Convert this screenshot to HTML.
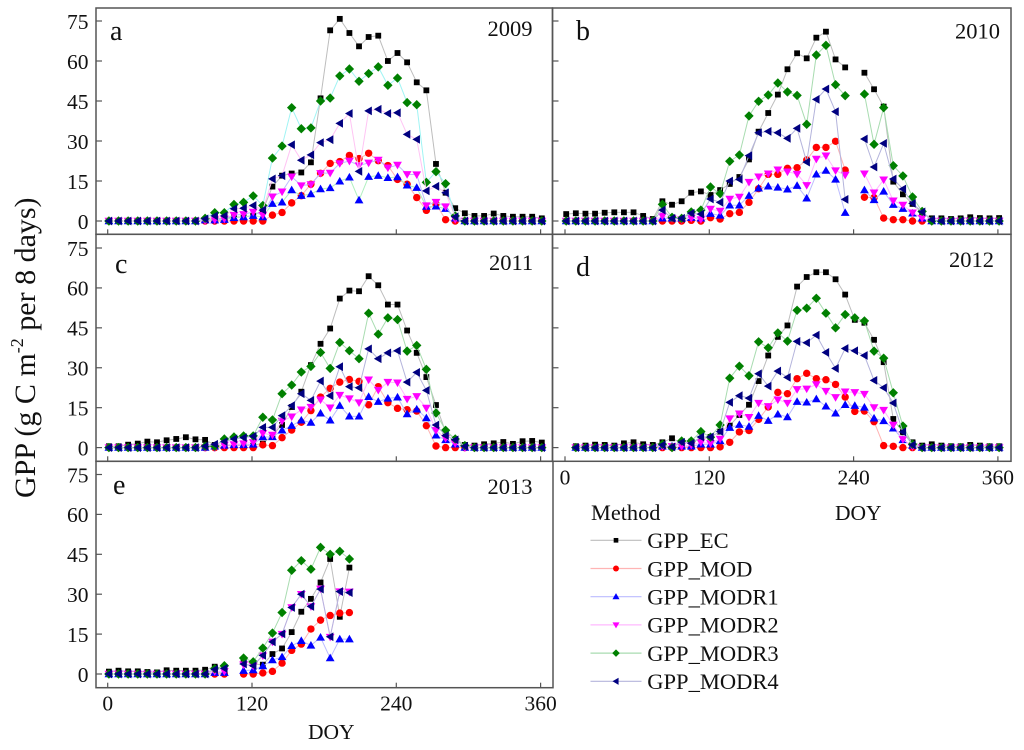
<!DOCTYPE html>
<html lang="en">
<head>
<meta charset="utf-8">
<title>GPP by method and year</title>
<style>
html,body{margin:0;padding:0;background:#fff;}
#stage{display:block;width:1024px;height:750px;filter:blur(0.35px);}
text{font-family:"Liberation Serif",serif;fill:#111;}
</style>
</head>
<body>
<svg id="stage" xmlns="http://www.w3.org/2000/svg" width="1024" height="750" viewBox="0 0 1024 750">
<rect x="0" y="0" width="1024" height="750" fill="#fff"/>
<text transform="translate(35,498) rotate(-90)" font-size="30">GPP (g C m<tspan font-size="18" dy="-12">-2</tspan><tspan dy="12"> per 8 days)</tspan></text>
<g id="panels"></g>
<text x="308" y="739" font-size="21.5">DOY</text>
<text x="835" y="520" font-size="21.5">DOY</text>
<g id="legend">
<text x="591" y="520" font-size="22.3">Method</text>
</g>
</svg>
<script>
// Shared categories and tick labels
const doyValues = [1,9,17,25,33,41,49,57,65,73,81,89,97,105,113,121,129,137,145,153,161,169,177,185,193,201,209,217,225,233,241,249,257,265,273,281,289,297,305,313,321,329,337,345,353,361];
const xTickLabels = [0,120,240,360];
const yTickLabels = [0,15,30,45,60,75];
const methodNames = ["GPP_EC","GPP_MOD","GPP_MODR1","GPP_MODR2","GPP_MODR3","GPP_MODR4"];

// Panel a, 2009
const a_EC = [0,0,0,0,0,0,0,0,0,0,.5,1,1,1.5,1.5,2,4,12.9,17,17.8,18.2,22,46,71.5,75.8,70.5,65.5,69,69.5,60,63,59.5,52,49,21.4,10.6,4.8,2.9,1.9,1.9,2.8,1.9,1.6,1.6,1.6,1];
const a_MOD = [0,0,0,0,0,0,0,0,0,0,0,0,0,0,0,0,0,2.2,3.2,6.8,9.5,13.8,17.9,21.6,22.3,24.6,23.4,25.4,22.6,20.8,15.6,13.8,8.8,4,6.4,.5,0,0,0,0,0,0,0,0,0,0];
const a_R1 = [0,0,0,0,0,0,0,0,0,0,.3,.3,.5,1.2,1.5,2,1.5,6.5,7,11.6,9.5,10.1,12,12.4,14.9,16.4,7.8,16.6,17,16.2,16.5,13.4,12.5,5.4,5.5,4.6,1,0,0,0,0,0,0,0,0,0];
const a_R2 = [0,0,0,0,0,0,0,0,0,0,.2,.5,.8,2.2,2.5,3.4,2.2,9.1,11,16.6,13.3,13.7,17.9,18,21.6,22.5,20.8,21.8,22.9,20,21,17.5,17.4,5.8,7.1,5.4,.6,0,0,0,0,0,0,0,0,0];
const a_R3 = [0,0,0,0,0,0,0,0,0,0,1,3.1,3.1,6.2,7,9.4,5.8,23.6,28.1,42.5,34.6,34.9,45,46.1,54.4,57,52.4,55.3,57.8,50.9,53.6,44.4,43.6,14.5,18.5,14,1.9,0,0,0,0,0,0,0,0,0];
const a_R4 = [0,0,0,0,0,0,0,0,0,0,.8,1.9,1.9,4.6,4.8,5.8,4.1,15.8,17,28.6,22.8,24.8,29.4,30.5,36.6,40.3,18.6,41.3,41.9,40.3,40.6,32.5,30.6,11.3,13,10.6,1.6,0,0,0,0,0,0,0,0,0];

// Panel b, 2010
const b_EC = [2.6,2.9,2.75,2.75,3.1,3.25,3.25,3.25,1.9,.75,7.4,6.1,7.4,10.6,11.1,9.75,11.6,13.9,16.5,23.1,33.5,40.5,47.4,56.9,62.9,61,68.75,71,60.6,57.6,null,55.6,49.4,42.9,14.75,10,6.4,2.9,1,1,.75,1,1.4,1.1,1,1.1];
const b_MOD = [0,0,0,0,0,0,0,0,0,0,0,0,0,.25,0,1.25,.75,2.75,3.25,7,12.1,17.5,17.5,19.75,20,22.9,27.6,27.6,29.9,19.1,null,8.9,8.75,1.1,.5,.5,0,0,0,0,0,0,0,0,0,0];
const b_R1 = [0,0,0,0,0,0,0,0,0,0,1,1,1,1.25,1,2.75,2.1,5.9,5.9,9.5,12.25,13,12.6,11.9,13.25,8.5,17.5,18.9,15.6,3.1,null,11.6,7.9,11.1,6.1,4.6,2.9,1,0,0,0,0,0,0,0,0];
const b_R2 = [0,0,0,0,0,0,0,0,0,0,1.9,1,.6,1.1,.6,4.5,3.75,8.25,9,14.6,16.6,17.75,19.25,18.5,17.6,13.4,23.25,24.5,18.9,17.25,null,17.75,10.6,15.5,7.6,6,3.1,1.1,0,0,0,0,0,0,0,0];
const b_R3 = [0,0,0,0,0,0,0,0,0,0,6.25,1.4,1,3.4,4.1,12.75,10.25,22.4,24.75,39.4,44.9,47.25,51.75,48.4,47.1,36.25,62.25,65.9,51.1,47,null,47.6,28.75,42.5,20.75,16.9,9,3.6,0,0,0,0,0,0,0,0];
const b_R4 = [0,0,0,0,0,0,0,0,0,0,4.1,1,1,2.9,2.6,8.25,7,15,15.6,24.5,33.1,33.6,33.1,31,34.75,22.1,45.6,49.5,41,8.1,null,30.75,20.25,29.1,15.75,12,6.6,3.4,.5,0,0,0,0,0,0,0];

// Panel c, 2011
const c_EC = [.5,.5,1.1,1.5,2.25,2,2.75,3.25,3.9,3.1,2.9,1,.8,.8,.8,1,1.5,4.75,8.5,15.25,21,31,39,44.75,56,59,58.75,64.4,61,53.75,53.75,44,35.6,26.5,16,6,3.25,1,.75,1.25,1.6,2.1,1.4,2.4,2.5,1.9];
const c_MOD = [0,0,0,0,0,0,0,0,0,0,0,0,0,0,0,0,1,.75,3.75,6.6,9.5,13.9,19,22.25,24.6,25.6,24.9,16.1,22.9,16.9,14.75,14.25,13.75,8.25,.6,0,0,0,0,0,0,0,0,0,0,0];
const c_R1 = [0,0,0,0,0,0,0,0,0,0,0,.5,.8,1,1,1.2,4,4,6.5,8.25,10.25,9.4,12.9,10.25,15.75,11.75,11.75,19.1,17.25,18.5,18.9,12.6,14.4,11.1,4.6,2.9,1.25,0,0,0,0,0,0,0,0,0];
const c_R2 = [0,0,0,0,0,0,0,0,0,0,0,0,1,1.2,1.5,2,5.4,4.75,10,11.6,14.25,15.25,18,15,19.75,18.4,16.9,25.5,21.6,24.6,24.4,18.25,19.25,14.9,6.5,3.5,1.6,0,0,0,0,0,0,0,0,0];
const c_R3 = [0,0,0,0,0,0,0,0,0,0,.5,.5,3.25,4,4.4,4.4,11.4,10.4,20.25,23.5,28.4,30.5,35.75,29.75,39.5,36.4,33.4,50.5,42.6,48.75,48.1,36.25,38.4,29.4,13,6.5,3.25,.75,0,0,0,0,0,0,0,0];
const c_R4 = [0,0,0,0,0,0,0,0,0,0,.5,1.25,2.25,3.25,3.75,4.25,7.6,7.6,12,15.75,20.25,17.75,25,19.5,30.4,22.9,22.5,37.1,33.4,35.6,36.4,24.6,28.25,21.5,8.5,4.5,2.9,.5,0,0,0,0,0,0,0,0];

// Panel d, 2012
const d_EC = [null,.5,.75,1.1,1,.75,1.6,2,1.25,1,2,3.5,1.6,2.25,3.25,4,6,8.25,12.25,16.1,25,34.6,41.6,45.9,60.5,64.1,65.9,65.9,63.25,57.5,48,46.9,40.5,32.1,10.75,5.75,2,.75,1.25,.75,.5,.5,1,.75,.5,.5];
const d_MOD = [null,0,0,0,0,0,0,0,0,0,0,0,0,0,0,0,.25,2,5.9,6.4,10.6,15.25,20.75,20.25,25.9,27.9,25.9,25.5,23.75,19,13.6,13.75,9.75,.75,.5,0,0,0,0,0,0,0,0,0,0,0];
const d_R1 = [null,0,0,0,0,0,0,0,0,0,.5,.5,.5,.5,1.25,1.25,2.5,7.5,8.6,7.9,12,10.1,12.5,11.5,17.25,17,18.25,15.5,12.9,16.1,15.75,15.1,11,10,7.25,2.9,.75,0,0,0,0,0,0,0,0,0];
const d_R2 = [null,0,0,0,0,0,0,0,0,0,.5,.5,.5,1,2,1.6,3.25,10.9,12.75,11.4,16.75,15.5,18,16.75,21.9,22.1,23.75,21.25,18.9,21,20.75,20.1,15.1,14.1,8.5,3.1,.4,0,0,0,0,0,0,0,0,0];
const d_R3 = [null,0,0,0,0,0,0,0,0,0,1.25,0,2.5,2.5,6,3.9,8.5,26.1,30.6,27,39.75,37.5,43.1,40,51.6,52.4,56.1,50.5,45,50,48.75,47.6,36.25,33.6,20.6,8.1,1.25,0,0,0,0,0,0,0,0,0];
const d_R4 = [null,0,0,0,0,0,0,0,0,0,1,.25,2,1.6,4,4,6,17,19.5,18.6,27.75,23.1,28.75,26.4,39.9,39.4,42.25,35.75,29.75,37.25,36.4,34.6,25.25,22.5,16.75,5.9,1,0,0,0,0,0,0,0,0,0];

// Panel e, 2013
const e_EC = [.9,1.25,1,1,.75,.6,1.4,1.25,1.25,1.25,1.6,2.75,2.1,null,5.25,3.75,3.5,7.5,9.6,15.75,23.4,28.25,34.4,43.25,21.5,40];
const e_MOD = [0,0,0,0,0,0,0,0,0,0,0,0,0,null,0,0,.4,1,4.1,8.9,11.25,16.9,20.25,22,22.9,23.1];
const e_R1 = [0,0,0,0,0,0,0,0,0,0,0,.5,.5,null,1.25,1.5,3,5.25,6.4,10.6,12.5,10.75,13.75,6,13.1,13.1];
const e_R2 = [0,0,0,0,0,0,0,0,0,0,0,1,1,null,3.5,3,6.9,12.1,15,25,30,25.4,32,13.9,31,30.9];
const e_R3 = [0,0,0,0,0,0,0,0,0,0,0,2,3.1,null,6,4.6,9.75,15.4,23.1,39,42.6,39.4,47.6,45,46.1,43.25];
const e_R4 = [0,0,0,0,0,0,0,0,0,0,0,1.75,2.1,null,3.75,3.1,7,12.1,15.1,25,30,25.4,31.9,14,31,30.6];

const SVGNS = "http://www.w3.org/2000/svg";
const markerColors = ["#000000","#ff0000","#0000ff","#ff00ff","#008000","#000080"];
const lineColors = ["#bdbdbd","#ffb4b4","#bcbcff","#ffb8ff","#a8dcb0","#b4b4dc"];
const lineColorsA = ["#bdbdbd","#ffb4b4","#b0f0c0","#bcbcff","#a0f4f4","#ffc4f4"];

function make(tag, attrs, parent) {
  const el = document.createElementNS(SVGNS, tag);
  for (const k in attrs) el.setAttribute(k, attrs[k]);
  parent.appendChild(el);
  return el;
}

function drawMarker(kind, cx, cy, parent, scale) {
  const color = markerColors[kind];
  const q = scale;
  let el;
  if (kind === 0) {
    el = make("rect", {x: cx - 2.9 * q, y: cy - 2.9 * q, width: 5.8 * q, height: 5.8 * q, fill: color}, parent);
  } else if (kind === 1) {
    el = make("circle", {cx: cx, cy: cy, r: 3.7 * q, fill: color}, parent);
  } else if (kind === 2) {
    el = make("polygon", {points: [cx, cy - 4.4 * q, cx + 4.4 * q, cy + 3.2 * q, cx - 4.4 * q, cy + 3.2 * q].join(" "), fill: color}, parent);
  } else if (kind === 3) {
    el = make("polygon", {points: [cx - 4.4 * q, cy - 3.2 * q, cx + 4.4 * q, cy - 3.2 * q, cx, cy + 4.4 * q].join(" "), fill: color}, parent);
  } else if (kind === 4) {
    el = make("polygon", {points: [cx, cy - 4.7 * q, cx + 4.7 * q, cy, cx, cy + 4.7 * q, cx - 4.7 * q, cy].join(" "), fill: color}, parent);
  } else {
    el = make("polygon", {points: [cx - 4.4 * q, cy, cx + 3.2 * q, cy - 4.4 * q, cx + 3.2 * q, cy + 4.4 * q].join(" "), fill: color}, parent);
  }
  return el;
}

const panelDefs = [
  {id:"a", year:2009, left:96, right:552.5, top:8, bottom:234.3, x0:107.7, y0:221, y75:21, series:[a_EC,a_MOD,a_R1,a_R2,a_R3,a_R4], letterX:110, letterY:40, yearX:487.5, yearY:36, xLabels:false, yLabels:true, colors:lineColorsA},
  {id:"b", year:2010, left:552.5, right:1011, top:8, bottom:234.3, x0:565, y0:221, y75:21, series:[b_EC,b_MOD,b_R1,b_R2,b_R3,b_R4], letterX:576, letterY:40, yearX:955, yearY:38.5, xLabels:false, yLabels:false, colors:lineColors},
  {id:"c", year:2011, left:96, right:552.5, top:234.3, bottom:461.3, x0:107.7, y0:447.6, y75:248, series:[c_EC,c_MOD,c_R1,c_R2,c_R3,c_R4], letterX:115, letterY:273, yearX:489, yearY:270, xLabels:false, yLabels:true, colors:lineColors},
  {id:"d", year:2012, left:552.5, right:1011, top:234.3, bottom:461.3, x0:565, y0:447.6, y75:248, series:[d_EC,d_MOD,d_R1,d_R2,d_R3,d_R4], letterX:576, letterY:276, yearX:949, yearY:267, xLabels:true, yLabels:false, colors:lineColors},
  {id:"e", year:2013, left:96, right:553, top:461.3, bottom:687.7, x0:107.7, y0:674, y75:474.5, series:[e_EC,e_MOD,e_R1,e_R2,e_R3,e_R4], letterX:113, letterY:494, yearX:487.5, yearY:494, xLabels:true, yLabels:true, colors:lineColors}
];

function xScale(p, doy) { return p.x0 + doy * 1.2025; }
function yScale(p, v) { return p.y0 - v * (p.y0 - p.y75) / 75; }

const panelsRoot = document.getElementById("panels");

panelDefs.forEach(function (p) {
  const g = make("g", {}, panelsRoot);
  
  

  const frame = make("rect", {x: p.left, y: p.top, width: p.right - p.left, height: p.bottom - p.top, fill: "none", stroke: "#555", "stroke-width": 1.5}, g);
  
  

  yTickLabels.forEach(function (t) {
    const y = yScale(p, t);
    const tick = make("line", {x1: p.left, x2: p.left + 6, y1: y, y2: y, stroke: "#555", "stroke-width": 1.2}, g);
    
    
    if (p.yLabels) {
      const lab = make("text", {x: p.left - 7.5, y: y + 7.8, "text-anchor": "end", "font-size": 21.5}, g);
      lab.textContent = t;
      
      
    }
  });

  xTickLabels.forEach(function (t) {
    const x = xScale(p, t);
    const tick = make("line", {x1: x, x2: x, y1: p.bottom, y2: p.bottom - 5, stroke: "#555", "stroke-width": 1.2}, g);
    
    
    if (p.xLabels) {
      const lab = make("text", {x: x, y: p.bottom + 23, "text-anchor": "middle", "font-size": 21.5}, g);
      lab.textContent = t;
      
      
    }
  });

  p.series.forEach(function (values, s) {
    const sg = make("g", {}, g);
    
    
    let d = "";
    let pen = false;
    values.forEach(function (v, i) {
      if (v === null) { pen = false; return; }
      d += (pen ? "L" : "M") + xScale(p, doyValues[i]).toFixed(2) + " " + yScale(p, v).toFixed(2);
      pen = true;
    });
    const line = make("path", {d: d, fill: "none", stroke: p.colors[s], "stroke-width": 1}, sg);
    
    
    values.forEach(function (v, i) {
      if (v === null) return;
      const m = drawMarker(s, xScale(p, doyValues[i]), yScale(p, v), sg, 1);
      
      
    });
  });

  const letter = make("text", {x: p.letterX, y: p.letterY, "font-size": 28}, g);
  letter.textContent = p.id;
  
  

  const year = make("text", {x: p.yearX, y: p.yearY, "font-size": 22.5}, g);
  year.textContent = p.year;
  
  
});

const legendRoot = document.getElementById("legend");
methodNames.forEach(function (name, s) {
  const cy = 540.3 + s * 28.2;
  const g = make("g", {}, legendRoot);
  
  
  const line = make("line", {x1: 590.5, x2: 641.5, y1: cy, y2: cy, stroke: lineColors[s], "stroke-width": 1.2}, g);
  
  
  const m = drawMarker(s, 616, cy, g, 0.8);
  
  
  const t = make("text", {x: 647.3, y: cy + 7.8, "font-size": 22.5}, g);
  t.textContent = name;
  
  
});
</script>
</body>
</html>
